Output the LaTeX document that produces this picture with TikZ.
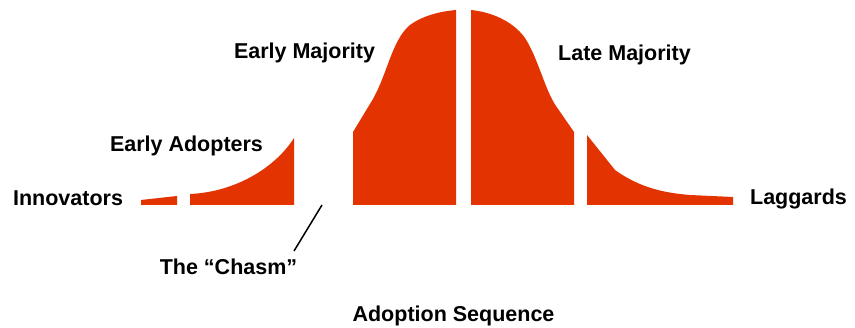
\documentclass[tikz,border=0pt]{standalone}
\usepackage{fontspec}
\setmainfont{Liberation Sans}
\usepackage{tikz}
\definecolor{chasmred}{RGB}{227,51,0}

\begin{document}
\begin{tikzpicture}[x=1pt,y=-1pt,
		lbl/.style={anchor=base,inner sep=0pt,font=\fontsize{21.5}{24}\selectfont\bfseries},
		bell/.style={fill=chasmred,draw=none}]
		\useasboundingbox (0,0) rectangle (855,328);
		%\draw[gray,step=50] (0,0) grid (855,328);
		% segments of the adoption curve
		\fill[bell] (141,205) -- (141,200) -- (177,196) -- (177,205) -- cycle;
		\fill[bell] (190,205) -- (190,194) .. controls (235,192) and (275,168) .. (294,138) -- (294,205) -- cycle;
		\fill[bell] (353,205) -- (353,132) -- (373,99) .. controls (388,72) and (392,40) .. (410,25) .. controls (425,14) and (445,11) .. (456,10) -- (456,205) -- cycle;
		\fill[bell] (471,205) -- (471,10) .. controls (490,12) and (512,20) .. (525,38) .. controls (538,58) and (545,90) .. (556,106) -- (574,132) -- (574,205) -- cycle;
		\fill[bell] (587,205) -- (587,135) -- (615,170) .. controls (640,188) and (665,193) .. (690,195) -- (733,197) -- (733,205) -- cycle;
		% labels
		\node[lbl] (inno) at (68,206) {Innovators};
		\node[lbl] (adopt) at (186.5,152) {Early Adopters};
		\node[lbl] (early) at (304.5,59) {Early Majority};
		\node[lbl] (late) at (624.5,61) {Late Majority};
		\node[lbl] (lag) at (798.5,205) {Laggards};
		\node[lbl] (chasm) at (228.5,275) {The “Chasm”};
		\node[lbl] (seq) at (453.5,322) {Adoption Sequence};
		% pointer into the gap
		\coordinate (gap) at (322,205);
		\coordinate (tip) at (294,251);
		\draw[line width=1.5pt] (gap) -- (tip);
	\end{tikzpicture}
\end{document}
